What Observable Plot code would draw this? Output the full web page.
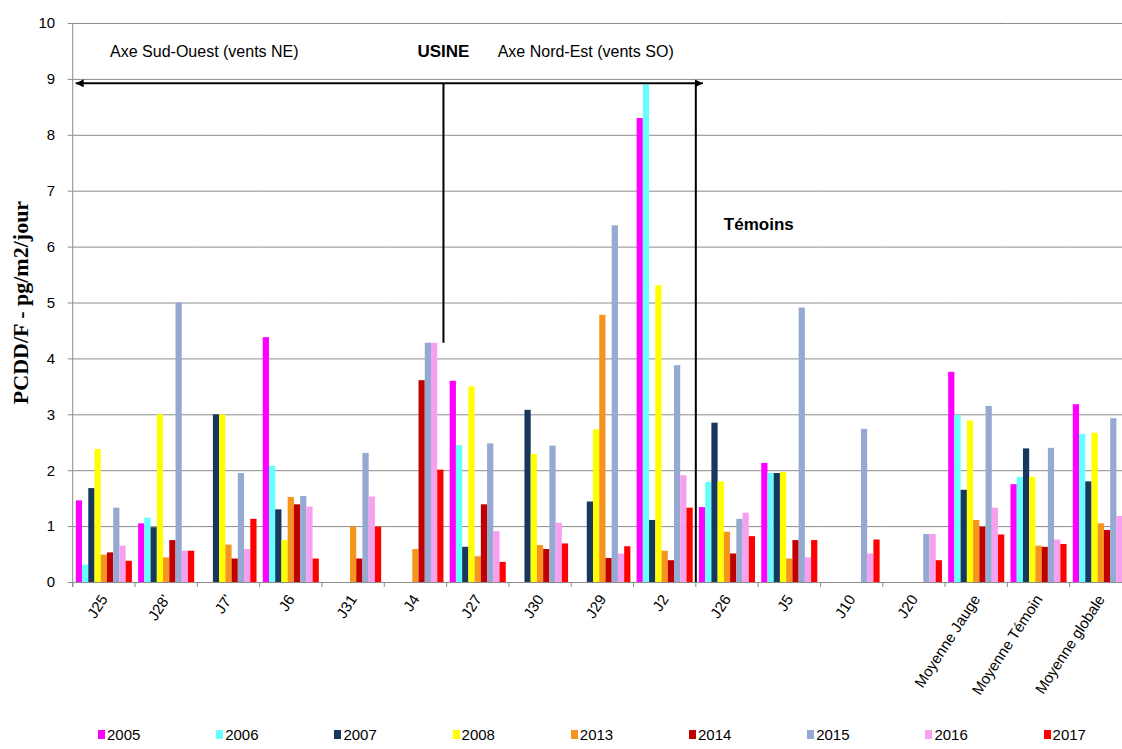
<!DOCTYPE html>
<html><head><meta charset="utf-8">
<script src="https://cdn.jsdelivr.net/npm/d3@7"></script>
<script src="https://cdn.jsdelivr.net/npm/@observablehq/plot@0.6"></script>
<style>
html,body{margin:0;padding:0;background:#fff;overflow:hidden;width:1122px;height:749px;}
#chart{width:1122px;overflow:hidden;}
#chart svg{display:block;max-width:none !important;}
#legend{position:relative;height:37px;width:1122px;font:15px "Liberation Sans",Arial,sans-serif;color:#000;}
#legend .item{position:absolute;top:14px;display:flex;align-items:center;white-space:nowrap;}
#legend .sw{width:7px;height:9px;margin-right:2px;}
</style></head><body><div id="chart"></div><div id="legend"></div>
<script>
const sites = ["J25","J28'","J7'","J6","J31","J4","J27","J30","J29","J2","J26","J5","J10","J20","Moyenne Jauge","Moyenne Témoin","Moyenne globale"];
const years = ["2005","2006","2007","2008","2013","2014","2015","2016","2017"];
const colors = ["#ff00ff","#66ffff","#17375e","#ffff00","#f7941d","#c00000","#95a9d3","#f7a0f0","#ff0000"];
const yTicks = [0,1,2,3,4,5,6,7,8,9,10];

const v2005 = [1.46,1.05,null,4.38,null,null,3.60,null,null,8.30,1.34,2.13,null,null,3.76,1.75,3.18];
const v2006 = [0.31,1.15,null,2.08,null,null,2.45,null,null,8.90,1.79,1.95,null,null,2.99,1.88,2.65];
const v2007 = [1.68,0.98,3.00,1.30,null,null,0.63,3.08,1.44,1.11,2.85,1.95,null,null,1.65,2.39,1.80];
const v2008 = [2.38,3.00,3.00,0.75,null,null,3.50,2.29,2.73,5.31,1.80,1.97,null,null,2.89,1.88,2.67];
const v2013 = [0.49,0.44,0.67,1.52,0.99,0.59,0.46,0.66,4.78,0.56,0.90,0.42,null,null,1.11,0.65,1.05];
const v2014 = [0.53,0.75,0.42,1.39,0.42,3.61,1.39,0.59,0.43,0.39,0.51,0.75,null,null,0.99,0.63,0.93];
const v2015 = [1.33,5.00,1.95,1.54,2.31,4.28,2.48,2.44,6.38,3.88,1.13,4.91,2.74,0.86,3.15,2.40,2.93];
const v2016 = [0.65,0.56,0.59,1.35,1.53,4.28,0.91,1.06,0.51,1.91,1.24,0.44,0.51,0.86,1.33,0.76,1.18];
const v2017 = [0.38,0.56,1.13,0.42,0.99,2.01,0.36,0.69,0.64,1.33,0.82,0.75,0.76,0.39,0.85,0.68,0.80];
const series = [v2005,v2006,v2007,v2008,v2013,v2014,v2015,v2016,v2017];

const rows = [];
years.forEach((yr,k)=>series[k].forEach((v,i)=>{ if (v != null) rows.push({site: sites[i], year: yr, value: v}); }));

const chart = Plot.plot({
  width: 1140, height: 712,
  marginLeft: 72.7, marginRight: 8, marginTop: 23, marginBottom: 130,
  style: {fontFamily: "'Liberation Sans', Arial, sans-serif", fontSize: "15px", background: "#fff", color: "#000", overflow: "visible", maxWidth: "none"},
  fx: {domain: sites, padding: 0, round: false, label: null, axis: "bottom", tickSize: 0, tickPadding: 14, tickRotate: -57},
  x: {domain: years, paddingInner: 0, paddingOuter: 0.5, round: false, axis: null},
  y: {domain: [0,10], ticks: yTicks, label: null, axis: null},
  color: {domain: years, range: colors},
  marks: [
    Plot.ruleY(yTicks, {stroke: "#8c8c8c", strokeWidth: 1}),
    Plot.barY(rows, {fx: "site", x: "year", y: "value", fill: "year"}),
    Plot.axisY({anchor: "left", ticks: yTicks, tickSize: 5, tickPadding: 13, stroke: "#8c8c8c", fill: "#000", label: null})
  ]
});
document.getElementById("chart").appendChild(chart);

// annotations using the plot's own scales
const fx = chart.scale("fx"), y = chart.scale("y");
const bw = fx.bandwidth;
const b = i => i < sites.length ? fx.apply(sites[i]) : fx.apply(sites[sites.length-1]) + bw;
const svg = d3.select(chart);
const g = svg.append("g");
const y0 = y.apply(0);
g.append("line").attr("x1", b(0)).attr("x2", b(0)).attr("y1", y.apply(10)).attr("y2", y0 + 5).attr("stroke", "#8c8c8c");
for (let i = 0; i <= sites.length; i++) g.append("line").attr("x1", b(i)).attr("x2", b(i)).attr("y1", y0).attr("y2", y0 + 5).attr("stroke", "#8c8c8c");

svg.append("defs").html(`<marker id="ah" viewBox="0 0 10 10" refX="10" refY="5" markerWidth="8" markerHeight="8" markerUnits="userSpaceOnUse" orient="auto-start-reverse"><path d="M0,0L10,5L0,10z" fill="#000"/></marker>`);
const ya = y.apply(8.92);
const usineX = b(6) - bw * 0.05;
const temX = b(10);
g.append("line").attr("x1", b(0) + 3).attr("x2", temX + 7).attr("y1", ya).attr("y2", ya).attr("stroke", "#000").attr("stroke-width", 2)
  .attr("marker-start", "url(#ah)").attr("marker-end", "url(#ah)");
g.append("line").attr("x1", usineX).attr("x2", usineX).attr("y1", ya).attr("y2", y.apply(4.28)).attr("stroke", "#000").attr("stroke-width", 2);
g.append("line").attr("x1", temX).attr("x2", temX).attr("y1", ya).attr("y2", y0).attr("stroke", "#000").attr("stroke-width", 2);

const yt = y.apply(9.5);
const txt = (x, yy, s, anchor, bold) => g.append("text").attr("x", x).attr("y", yy).attr("dy", "0.35em")
  .attr("text-anchor", anchor).attr("font-size", bold ? 17 : 16).attr("font-weight", bold ? "bold" : null).text(s);
txt(b(0) + 0.6 * bw, yt, "Axe Sud-Ouest (vents NE)", "start", false);
txt(usineX, yt, "USINE", "middle", true);
txt(usineX + 0.87 * bw, yt, "Axe Nord-Est (vents SO)", "start", false);
txt(temX + 0.45 * bw, y.apply(6.4), "Témoins", "start", true);

g.append("text").attr("transform", `translate(20,${(y.apply(0) + y.apply(10)) / 2}) rotate(-90)`)
  .attr("text-anchor", "middle").attr("dy", "0.35em").attr("font-family", "'Liberation Serif', 'Times New Roman', serif")
  .attr("font-weight", "bold").attr("font-size", 22).text("PCDD/F - pg/m2/jour");

const leg = d3.select("#legend");
years.forEach((yr, k) => {
  const it = leg.append("div").attr("class", "item").style("left", (98 + 118.2 * k) + "px");
  it.append("div").attr("class", "sw").style("background", colors[k]);
  it.append("span").text(yr);
});
</script></body></html>
